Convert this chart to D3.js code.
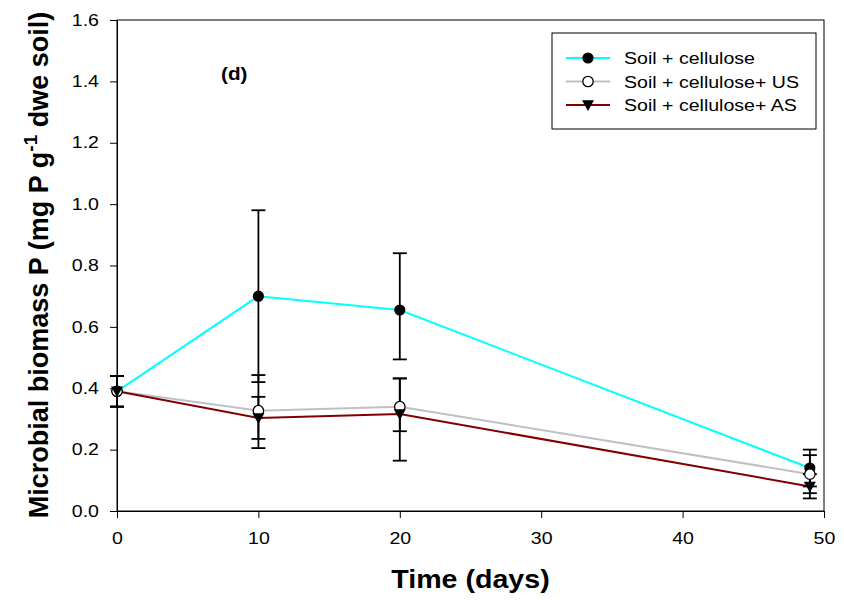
<!DOCTYPE html>
<html>
<head>
<meta charset="utf-8">
<script src="https://cdn.jsdelivr.net/npm/d3@7/dist/d3.min.js"></script>
<style>
  body { margin: 0; background: #fff; }
  svg { font-family: "Liberation Sans", Arial, sans-serif; }
</style>
</head>
<body>
<svg id="chart" width="844" height="600"></svg>
<script>
// ── Data ────────────────────────────────────────────────────────────────────
const DAYS = [0, 10, 20, 49];
const SERIES_NAMES = ["Soil + cellulose", "Soil + cellulose+ US", "Soil + cellulose+ AS"];

const cellulose = [0.39, 0.70, 0.655, 0.14];
const celluloseLo = [0.34, 0.42, 0.494, 0.08];
const celluloseHi = [0.44, 0.98, 0.84, 0.20];

const cellUS = [0.39, 0.327, 0.34, 0.12];
const cellUSLo = [0.34, 0.205, 0.26, 0.058];
const cellUSHi = [0.44, 0.443, 0.432, 0.182];

const cellAS = [0.39, 0.303, 0.316, 0.08];
const cellASLo = [0.34, 0.235, 0.164, 0.041];
const cellASHi = [0.44, 0.372, 0.432, 0.12];

const X_TICKS = [0, 10, 20, 30, 40, 50];
const Y_TICKS = [0, 0.2, 0.4, 0.6, 0.8, 1.0, 1.2, 1.4, 1.6];

const series = [
    { name: SERIES_NAMES[0], vals: cellulose, lo: celluloseLo, hi: celluloseHi, color: "#00ffff", sym: "filled" },
    { name: SERIES_NAMES[1], vals: cellUS, lo: cellUSLo, hi: cellUSHi, color: "#c0c0c0", sym: "open" },
    { name: SERIES_NAMES[2], vals: cellAS, lo: cellASLo, hi: cellASHi, color: "#800000", sym: "tri" },
];

// horizontal text in the original is a bit wider than Arial
const STRETCH = 1.2;

// ── Layout ──────────────────────────────────────────────────────────────────
const plotL = 117, plotR = 824, plotT = 20, plotB = 511;
const svg = d3.select("#chart");

const x = d3.scaleLinear().domain([0, 50]).range([plotL, plotR]);
const y = d3.scaleLinear().domain([0, 1.6]).range([plotB, plotT]);

// frame
svg.append("rect")
    .attr("x", plotL).attr("y", plotT)
    .attr("width", plotR - plotL).attr("height", plotB - plotT)
    .attr("fill", "none").attr("stroke", "#000").attr("stroke-width", 1);

// axes
const xAxis = svg.append("g")
    .attr("transform", `translate(0,${plotB})`)
    .call(d3.axisBottom(x).tickValues(X_TICKS).tickSize(7).tickPadding(14).tickFormat(d3.format("d")));
const yAxis = svg.append("g")
    .attr("transform", `translate(${plotL},0)`)
    .call(d3.axisLeft(y).tickValues(Y_TICKS).tickSize(7).tickPadding(11).tickFormat(d3.format(".1f")));

[xAxis, yAxis].forEach(g => {
    g.select(".domain").attr("stroke", "#000");
    g.selectAll(".tick line").attr("stroke", "#000");
    g.selectAll(".tick text")
        .attr("fill", "#000")
        .attr("font-size", "16.3px")
        .attr("font-family", "'Liberation Sans', Arial, sans-serif")
        .each(function () {
            const t = d3.select(this);
            const tx = +t.attr("x") || 0;
            t.attr("x", 0).attr("transform", `translate(${tx},0) scale(${STRETCH},1)`);
        });
});

// axis titles
svg.append("text")
    .attr("transform", `translate(${(plotL + plotR) / 2},588) scale(1.1,1)`)
    .attr("text-anchor", "middle")
    .attr("font-size", "26px").attr("font-weight", "bold")
    .text("Time (days)");

const yTitle = svg.append("text")
    .attr("transform", "translate(48,265) rotate(-90)")
    .attr("text-anchor", "middle")
    .attr("font-size", "27px").attr("font-weight", "bold");
yTitle.append("tspan").text("Microbial biomass P (mg P g");
yTitle.append("tspan").attr("dy", -11).attr("font-size", "19px").text("-1");
yTitle.append("tspan").attr("dy", 11).text(" dwe soil)");

// panel label
svg.append("text")
    .attr("transform", `translate(221,80) scale(1.15,1)`)
    .attr("font-size", "18px").attr("font-weight", "bold")
    .text("(d)");

// ── Marks ───────────────────────────────────────────────────────────────────
const line = d3.line().x(d => x(d.day)).y(d => y(d.v));
const triPath = s => `M${-s},${-s * 0.8}L${s},${-s * 0.8}L0,${s * 1.0}Z`;

function drawSymbol(g, sym, cx, cy) {
    if (sym === "filled") {
        g.append("circle").attr("cx", cx).attr("cy", cy).attr("r", 5.6).attr("fill", "#000");
    } else if (sym === "open") {
        g.append("circle").attr("cx", cx).attr("cy", cy).attr("r", 5.2)
            .attr("fill", "#fff").attr("stroke", "#000").attr("stroke-width", 1.3);
    } else {
        g.append("path").attr("transform", `translate(${cx},${cy})`)
            .attr("d", triPath(6)).attr("fill", "#000");
    }
}

const linesG = svg.append("g");
const errG = svg.append("g");
const symG = svg.append("g");

series.forEach(s => {
    const pts = DAYS.map((day, i) => ({ day, v: s.vals[i], lo: s.lo[i], hi: s.hi[i] }));

    linesG.append("path").datum(pts)
        .attr("fill", "none").attr("stroke", s.color).attr("stroke-width", 2)
        .attr("d", line);

    pts.forEach(p => {
        const cx = x(p.day);
        errG.append("line").attr("x1", cx).attr("x2", cx)
            .attr("y1", y(p.lo)).attr("y2", y(p.hi))
            .attr("stroke", "#000").attr("stroke-width", 1.8);
        [p.lo, p.hi].forEach(c => {
            errG.append("line").attr("x1", cx - 7).attr("x2", cx + 7)
                .attr("y1", y(c)).attr("y2", y(c))
                .attr("stroke", "#000").attr("stroke-width", 1.8);
        });
        drawSymbol(symG, s.sym, cx, y(p.v));
    });
});

// ── Legend ──────────────────────────────────────────────────────────────────
const legend = svg.append("g");
legend.append("rect")
    .attr("x", 552).attr("y", 33).attr("width", 264).attr("height", 96)
    .attr("fill", "#fff").attr("stroke", "#000").attr("stroke-width", 1);

series.forEach((s, i) => {
    const ly = 58 + i * 23.5;
    legend.append("line").attr("x1", 566).attr("x2", 610)
        .attr("y1", ly).attr("y2", ly)
        .attr("stroke", s.color).attr("stroke-width", 2);
    drawSymbol(legend, s.sym, 588, ly);
    legend.append("text")
        .attr("transform", `translate(624,${ly + 6}) scale(${STRETCH},1)`)
        .attr("font-size", "16.3px")
        .text(s.name);
});
</script>
</body>
</html>
